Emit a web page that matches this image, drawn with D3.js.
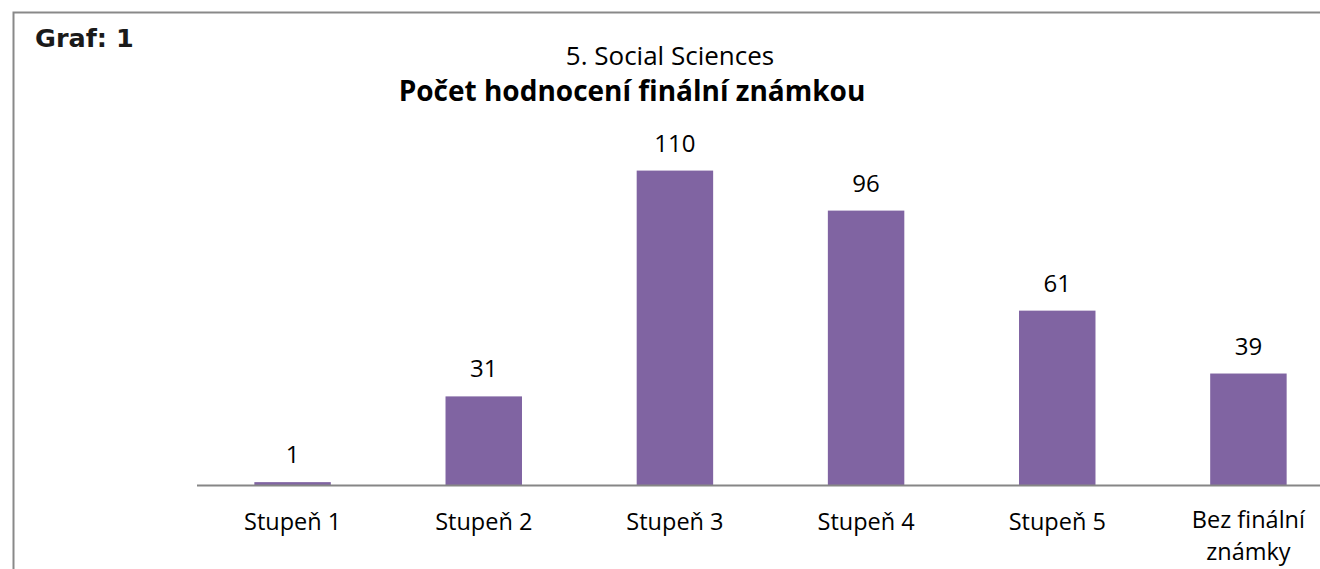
<!DOCTYPE html>
<html>
<head>
<meta charset="utf-8">
<script src="https://cdn.jsdelivr.net/npm/d3@7"></script>
<style>
  html, body { margin: 0; padding: 0; background: #fff; }
  svg { display: block; }
  text { font-family: "Open Sans", Lato, sans-serif; fill: #000; }
</style>
</head>
<body>
<div id="chart"></div>
<script>
const categories = ['Stupeň 1', 'Stupeň 2', 'Stupeň 3', 'Stupeň 4', 'Stupeň 5', 'Bez finální známky'];
const values = [1, 31, 110, 96, 61, 39];
const titleLine1 = '5. Social Sciences';
const titleLine2 = 'Počet hodnocení finální známkou';
const graphLabel = 'Graf: 1';

const width = 1320;
const height = 569;

const svg = d3
    .select('#chart')
    .append('svg')
    .attr('width', width)
    .attr('height', height);

// frame (only top and left edges are visible in the crop)
svg.append('path')
    .attr('d', `M13.5,${height} V12.5 H${width}`)
    .attr('fill', 'none')
    .attr('stroke', '#898989')
    .attr('stroke-width', 2);

svg.append('text')
    .attr('x', 35)
    .attr('y', 47)
    .style('font-family', '"DejaVu Sans", Verdana, sans-serif')
    .style('font-weight', 'bold')
    .style('font-size', '25.5px')
    .style('fill', '#1a1a1a')
    .text(graphLabel);

svg.append('text')
    .attr('x', 670)
    .attr('y', 65)
    .attr('text-anchor', 'middle')
    .style('font-size', '26px')
    .text(titleLine1);

svg.append('text')
    .attr('x', 632)
    .attr('y', 101)
    .attr('text-anchor', 'middle')
    .style('font-size', '28px')
    .style('font-weight', 'bold')
    .text(titleLine2);

let x = d3
    .scaleBand()
    .domain(categories)
    .range([197, 1344])
    .paddingInner(0.6)
    .paddingOuter(0.3);

let y = d3.scaleLinear().domain([0, 120]).range([485, 142]);

svg.append('g')
    .selectAll('rect')
    .data(values)
    .join('rect')
    .attr('x', (d, i) => x(categories[i]))
    .attr('width', x.bandwidth())
    .attr('y', (d) => y(d))
    .attr('height', (d) => y(0) - y(d))
    .attr('fill', '#8064A2');

// axis line
const xAxis = d3.axisBottom(x).tickSize(0).tickPadding(0);
svg.append('g')
    .attr('transform', `translate(0,${y(0) + 0.5})`)
    .call(xAxis)
    .call((g) => g.select('.domain')
        .attr('d', `M197,0 H${width}`)
        .attr('stroke', '#868686')
        .attr('stroke-width', 2))
    .call((g) => g.selectAll('.tick text').remove())
    .call((g) => g.selectAll('.tick').each(function (d) {
        const words = d.split(' ');
        const lines = d.length > 10 ? [words.slice(0, 2).join(' '), words.slice(2).join(' ')] : [d];
        lines.forEach((l, k) => {
            d3.select(this).append('text')
                .attr('text-anchor', 'middle')
                .attr('x', 0)
                .attr('y', (lines.length > 1 ? 42 : 44) + k * 32)
                .style('font-family', '"Open Sans", Lato, sans-serif')
                .style('font-size', '23.5px')
                .style('fill', '#000')
                .text(l);
        });
    }));

// value labels
svg.append('g')
    .selectAll('text')
    .data(values)
    .join('text')
    .attr('x', (d, i) => x(categories[i]) + x.bandwidth() / 2)
    .attr('y', (d) => y(d) - 19)
    .attr('text-anchor', 'middle')
    .style('font-size', '24px')
    .text((d) => d);
</script>
</body>
</html>
